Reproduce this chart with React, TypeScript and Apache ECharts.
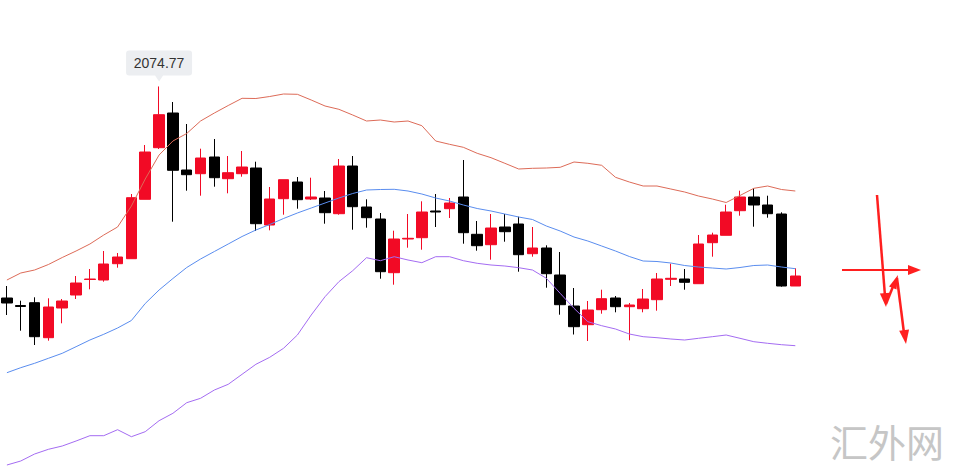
import React, { useEffect, useRef } from "react";
import * as echarts from "echarts";

// Candle data: open, close, low, high (price units)
const opens = [
  1969.0, 1965.25, 1966.65, 1949.15, 1964.0, 1970.5, 1978.25, 1978.0, 1986.15, 1988.65,
  2018.35, 2044.15, 2061.5, 2033.0, 2031.15, 2039.5, 2028.65, 2031.15, 2034.0, 2005.5,
  2018.65, 2027.0, 2018.5, 2019.0, 2011.15, 2035.0, 2014.5, 2008.5, 1981.65, 1998.5,
  1999.15, 2012.5, 2013.65, 2019.5, 2000.85, 1995.65, 2004.5, 2006.0, 1991.15, 1994.0,
  1980.5, 1965.0, 1955.65, 1963.15, 1969.0, 1964.65, 1963.65, 1968.15, 1978.35, 1978.5,
  1976.15, 1996.65, 2000.35, 2012.65, 2019.5, 2015.5, 2011.0, 1975.0,
];
const closes = [
  1966.5, 1964.75, 1949.65, 1964.5, 1967.5, 1976.5, 1978.5, 1986.0, 1989.5, 2019.15,
  2042.0, 2060.65, 2032.85, 2030.65, 2039.0, 2029.15, 2031.65, 2034.5, 2006.15, 2018.5,
  2028.15, 2018.15, 2019.5, 2011.65, 2035.0, 2014.65, 2009.15, 1982.15, 1998.5, 1998.85,
  2012.0, 2012.0, 2016.5, 2001.65, 1995.15, 2004.0, 2002.15, 1990.65, 1994.0, 1981.15,
  1965.65, 1954.65, 1963.0, 1968.65, 1964.65, 1965.5, 1968.5, 1978.5, 1978.85, 1976.85,
  1996.0, 2000.5, 2012.0, 2019.5, 2015.5, 2011.15, 1975.0, 1980.0,
];
const lows = [
  1960.5, 1952.65, 1945.5, 1947.65, 1956.35, 1968.5, 1973.35, 1977.15, 1984.15, 1988.65,
  2018.35, 2043.5, 2007.15, 2022.65, 2020.15, 2024.65, 2021.35, 2029.65, 2002.5, 2002.85,
  2010.65, 2013.65, 2018.0, 2006.15, 2010.65, 2003.15, 2004.15, 1978.65, 1975.65, 1994.15,
  1993.15, 2004.5, 2009.0, 1996.15, 1992.65, 1988.15, 1997.15, 1982.15, 1989.65, 1974.15,
  1960.65, 1950.75, 1947.5, 1961.15, 1961.85, 1947.85, 1961.85, 1962.65, 1975.0, 1973.15,
  1976.15, 1989.65, 2000.35, 2010.15, 2004.65, 2009.15, 1974.65, 1975.0,
];
const highs = [
  1975.0, 1967.65, 1969.35, 1968.85, 1968.5, 1980.0, 1983.5, 1992.5, 1991.5, 2021.0,
  2045.5, 2074.77, 2067.0, 2056.0, 2043.65, 2048.5, 2040.0, 2042.5, 2037.15, 2024.5,
  2028.15, 2029.5, 2029.15, 2022.5, 2038.5, 2040.0, 2018.35, 2011.5, 2002.65, 2011.0,
  2017.35, 2021.0, 2019.0, 2038.0, 2007.5, 2011.0, 2011.0, 2009.65, 2004.5, 1995.35,
  1992.0, 1974.0, 1967.5, 1973.15, 1970.0, 1966.5, 1973.5, 1981.5, 1986.15, 1983.5,
  2000.5, 2001.65, 2015.65, 2022.65, 2023.85, 2020.15, 2011.85, 1983.85,
];

// Bollinger bands
const upperBand = [
  1978.0, 1981.5, 1983.0, 1985.75, 1989.25, 1992.5, 1996.0, 2000.5, 2004.5, 2015.0,
  2028.5, 2040.5, 2047.5, 2051.25, 2057.5, 2061.5, 2065.25, 2068.85, 2068.75, 2069.75,
  2071.0, 2070.85, 2068.0, 2065.0, 2063.35, 2060.5, 2057.5, 2058.0, 2057.0, 2057.5,
  2055.15, 2047.5, 2045.85, 2044.35, 2041.35, 2039.15, 2036.35, 2033.5, 2033.85, 2034.0,
  2034.35, 2037.0, 2036.35, 2035.35, 2029.35, 2027.0, 2025.0, 2025.0, 2023.5, 2022.0,
  2020.0, 2018.5, 2016.75, 2020.25, 2023.85, 2025.0, 2023.25, 2022.5,
];
const middleBand = [
  1931.65, 1934.15, 1936.35, 1938.85, 1941.35, 1944.65, 1948.0, 1950.85, 1954.0, 1957.75,
  1966.25, 1973.0, 1978.75, 1984.25, 1988.5, 1992.25, 1996.0, 1999.75, 2003.0, 2005.75,
  2008.75, 2011.5, 2014.0, 2016.5, 2019.0, 2021.25, 2023.0, 2023.25, 2023.35, 2022.5,
  2021.0, 2019.0, 2017.5, 2015.5, 2013.75, 2012.5, 2011.0, 2009.5, 2008.25, 2005.0,
  2002.5, 1999.5, 1997.5, 1995.0, 1992.5, 1989.75, 1987.5, 1987.25, 1986.5, 1985.25,
  1984.5, 1984.0, 1983.5, 1984.25, 1985.25, 1985.5, 1984.5, 1983.65,
];
const lowerBand = [
  1885.5, 1887.5, 1891.0, 1893.35, 1895.0, 1897.5, 1900.15, 1900.15, 1903.15, 1899.65,
  1902.15, 1907.65, 1911.35, 1916.65, 1918.85, 1923.0, 1925.85, 1930.85, 1935.85, 1939.35,
  1943.85, 1950.5, 1960.5, 1969.65, 1977.15, 1982.65, 1989.15, 1987.65, 1989.65, 1988.0,
  1986.65, 1989.65, 1989.65, 1987.65, 1986.35, 1985.5, 1985.0, 1984.15, 1983.0, 1978.85,
  1971.35, 1963.85, 1957.15, 1955.15, 1953.5, 1951.0, 1949.65, 1949.15, 1948.5, 1948.0,
  1948.85, 1949.65, 1950.5, 1948.85, 1947.15, 1946.35, 1945.65, 1945.15,
];

const categories = opens.map((_, i) => String(i + 1));

const UP = "#f20a25";
const DOWN = "#000000";
const ARROW = "#ff1f1f";

export default function App() {
  const ref = useRef<HTMLDivElement>(null);

  useEffect(() => {
    if (!ref.current) return;
    const chart = echarts.init(ref.current, undefined, { renderer: "svg" });
    const candles = opens.map((o, i) => [o, closes[i], lows[i], highs[i]]);
    let maxIdx = 0;
    highs.forEach((h, i) => {
      if (h > highs[maxIdx]) maxIdx = i;
    });

    const arrowHead = (tip: number[], from: number[], len: number, half: number) => {
      const dx = tip[0] - from[0];
      const dy = tip[1] - from[1];
      const d = Math.sqrt(dx * dx + dy * dy);
      const ux = dx / d;
      const uy = dy / d;
      const bx = tip[0] - ux * len;
      const by = tip[1] - uy * len;
      return {
        type: "polygon",
        shape: {
          points: [
            [tip[0], tip[1]],
            [bx - uy * half, by + ux * half],
            [bx + uy * half, by - ux * half],
          ],
        },
        style: { fill: ARROW },
        silent: true,
      };
    };
    const shaft = (a: number[], b: number[], w: number) => ({
      type: "line",
      shape: { x1: a[0], y1: a[1], x2: b[0], y2: b[1] },
      style: { stroke: ARROW, lineWidth: w },
      silent: true,
    });

    chart.setOption({
      animation: false,
      backgroundColor: "#ffffff",
      grid: { left: -6.27, top: 0, width: 808.5, height: 472 },
      xAxis: {
        type: "category",
        data: categories,
        show: false,
        boundaryGap: true,
      },
      yAxis: {
        type: "value",
        min: 1882,
        max: 2118,
        show: false,
        splitLine: { show: false },
      },
      series: [
        {
          type: "candlestick",
          data: candles,
          barWidth: 11,
          itemStyle: {
            color: UP,
            color0: DOWN,
            borderColor: UP,
            borderColor0: DOWN,
            borderWidth: 1,
          },
          markPoint: {
            symbol:
              "path://M3,0 H63 Q66,0 66,3 V22 Q66,25 63,25 H37 L33,31 L29,25 H3 Q0,25 0,22 V3 Q0,0 3,0 Z",
            symbolSize: [66, 31],
            symbolOffset: [0, -20.5],
            itemStyle: { color: "#eceef1" },
            label: {
              show: true,
              position: "inside",
              offset: [0, -3],
              color: "#333333",
              fontSize: 14,
              fontFamily: "Liberation Sans, Arial, sans-serif",
              formatter: (p: any) => String(p.value),
            },
            data: [{ coord: [maxIdx, highs[maxIdx]], value: highs[maxIdx] }],
          },
        },
        {
          type: "line",
          data: upperBand,
          symbol: "none",
          lineStyle: { color: "#dd6b58", width: 1 },
        },
        {
          type: "line",
          data: middleBand,
          symbol: "none",
          lineStyle: { color: "#5a8def", width: 1 },
        },
        {
          type: "line",
          data: lowerBand,
          symbol: "none",
          lineStyle: { color: "#a46cf2", width: 1 },
        },
      ],
      graphic: [
        // horizontal arrow
        shaft([842, 270], [910, 270], 2),
        arrowHead([921, 270], [842, 270], 13, 5),
        // long down arrow
        shaft([877, 195], [885, 296], 2.5),
        arrowHead([886, 307], [877, 195], 14, 5),
        // short up arrow
        shaft([886, 304], [894, 284], 2.5),
        arrowHead([898, 275], [886, 305], 14, 4),
        // down arrow
        shaft([897, 278], [904, 333], 2.5),
        arrowHead([906, 344], [897, 278], 14, 5),
        {
          type: "text",
          left: 830,
          top: 421,
          silent: true,
          style: {
            text: "汇外网",
            font: '38px "Noto Sans CJK SC"',
            fill: "#c6c6c6",
          },
        },
      ],
    });
    return () => chart.dispose();
  }, []);

  return (
    <div
      ref={ref}
      style={{ position: "fixed", left: 0, top: 0, width: 958, height: 472, background: "#fff" }}
    />
  );
}
